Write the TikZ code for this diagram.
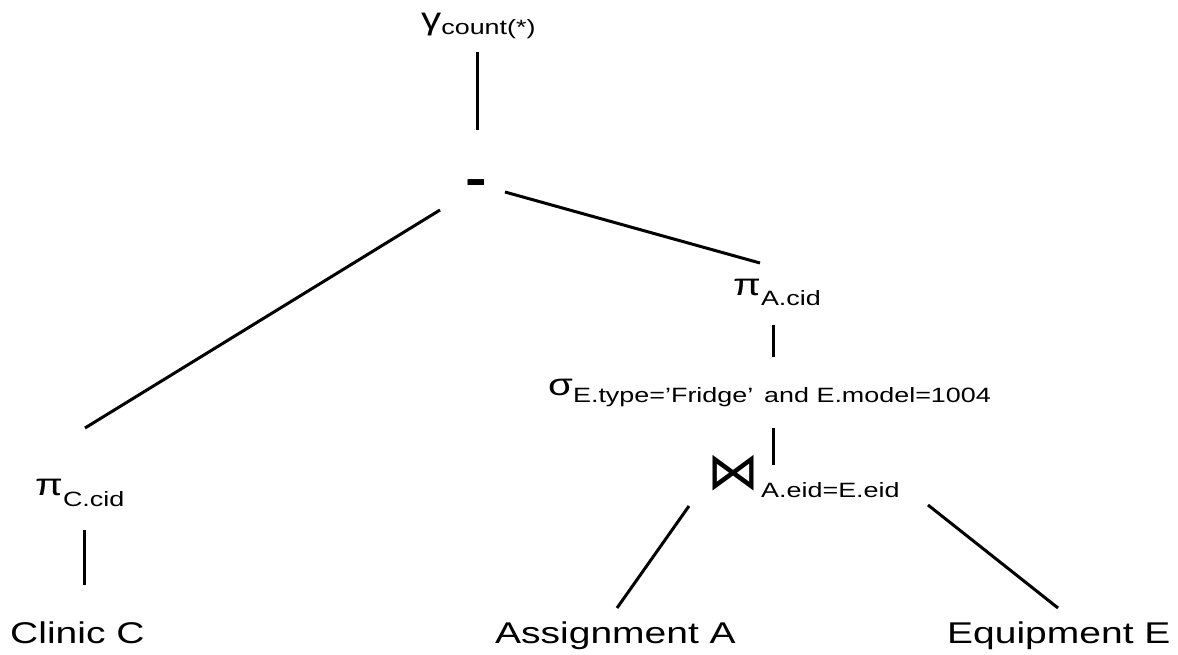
\documentclass[tikz,border=0pt]{standalone}
\usepackage{fontspec}
\setmainfont[FakeStretch=1.3]{Liberation Sans}
\newfontfamily\symfont{DejaVu Sans}
\usetikzlibrary{calc, positioning}

\newcommand{\opsub}[2][8pt]{\raisebox{-#1}{\fontsize{20.7}{24}\selectfont #2}}

\begin{document}
\begin{tikzpicture}[x=1pt, y=-1pt]
            \tikzstyle{op} = [inner sep=0pt, anchor=base west, font=\fontsize{31}{36}\selectfont]
            \tikzstyle{rel} = [inner sep=0pt, anchor=base west, font=\fontsize{30}{36}\selectfont]
            \tikzstyle{edge} = [line width=3pt, black]

            \useasboundingbox (0,0) rectangle (1178,654);

            \node (gam)[op] at (421,29) {γ\opsub[5pt]{count(*)}};
            \node (minus)[inner sep=0pt, font=\fontsize{50}{56}\selectfont\bfseries] at (476,188) {-};
            \node (piA)[op] at (733,295) {π\opsub[10pt]{A.cid}};
            \node (sig)[op] at (548,395) {σ\opsub[7pt]{E.type='Fridge'\, and E.model=1004}};
            \node (join)[op] at (707,489) {{\symfont\fontsize{52}{56}\selectfont ⋈}\kern2pt\opsub[8pt]{A.eid=E.eid}};
            \node (piC)[op] at (35,495) {π\opsub[11pt]{C.cid}};

            \node (clinic)[rel] at (10,643) {Clinic C};
            \node (assign)[rel] at (495,643) {Assignment A};
            \node (equip)[rel] at (947,643) {Equipment E};

            \draw [edge] ($(gam.base west)+(56,23)$) -- ($(minus)+(1,-58)$);
            \draw [edge] ($(minus)+(-36,22)$) -- ($(piC.base west)+(50,-67)$);
            \draw [edge] ($(minus)+(29,4)$) -- ($(piA.base west)+(27,-32)$);
            \draw [edge] ($(piA.base west)+(40,30)$) -- ($(sig.base west)+(225,-38)$);
            \draw [edge] ($(sig.base west)+(225,33)$) -- ($(join.base west)+(66,-24)$);
            \draw [edge] ($(join.base west)+(-18,17)$) -- ($(assign.base west)+(122,-35)$);
            \draw [edge] ($(join.base west)+(221,16)$) -- ($(equip.base west)+(111,-35)$);
            \draw [edge] ($(piC.base west)+(49,35)$) -- ($(clinic.base west)+(74,-58)$);
        \end{tikzpicture}
\end{document}
